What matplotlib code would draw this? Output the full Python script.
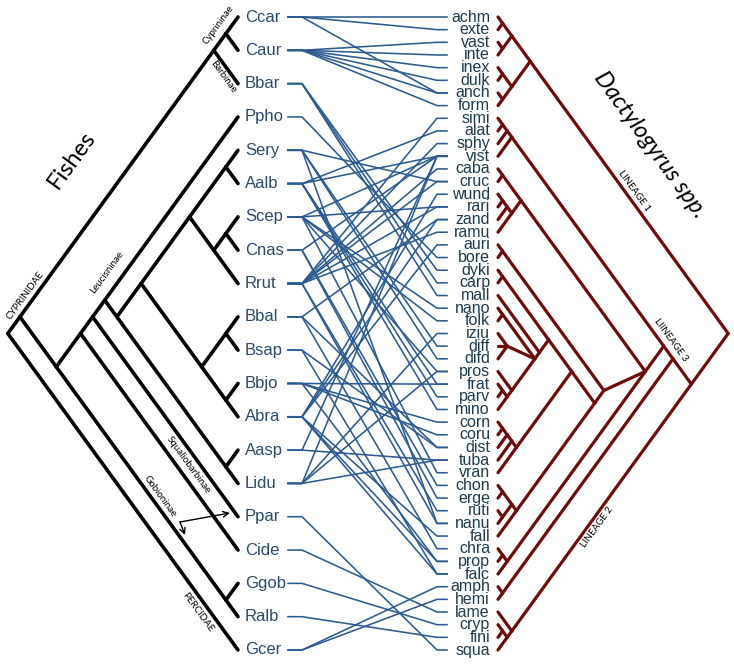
import re
import matplotlib
matplotlib.use('Agg')
import matplotlib.pyplot as plt
from matplotlib.collections import LineCollection

# host fishes (top to bottom) and their Dactylogyrus parasites
fishes = ['Ccar', 'Caur', 'Bbar', 'Ppho', 'Sery', 'Aalb', 'Scep', 'Cnas', 'Rrut', 'Bbal',
          'Bsap', 'Bbjo', 'Abra', 'Aasp', 'Lidu', 'Ppar', 'Cide', 'Ggob', 'Ralb', 'Gcer']
parasites = ['achm', 'exte', 'vast', 'inte', 'inex', 'dulk', 'anch', 'form', 'simi', 'alat',
             'sphy', 'vist', 'caba', 'cruc', 'wund', 'rari', 'zand', 'ramu', 'auri', 'bore',
             'dyki', 'carp', 'mall', 'nano', 'folk', 'iziu', 'diff', 'difd', 'pros', 'frat',
             'parv', 'mino', 'corn', 'coru', 'dist', 'tuba', 'vran', 'chon', 'erge', 'ruti',
             'nanu', 'fall', 'chra', 'prop', 'falc', 'amph', 'hemi', 'lame', 'cryp', 'fini', 'squa']

fish_tree = ("((((Ccar,Caur),Bbar),((((Ppho,((((Sery,Aalb),((Scep,Cnas),Rrut)),"
             "((Bbal,Bsap),(Bbjo,Abra))),(Aasp,Lidu))),Ppar),Cide),(Ggob,Ralb))),Gcer)")
para_tree = ("((((achm,exte),(vast,inte)),((inex,dulk),(anch,form))),"
             "((((((simi,alat),sphy),vist),"
             "(((caba,cruc),(((wund,rari),zand),ramu)),"
             "((auri,bore),((((dyki,carp),(mall,((nano,folk),(iziu,diff,difd),(pros,((frat,parv),mino))))),"
             "((((corn,coru),dist),tuba),vran)),(((chon,erge),(ruti,nanu)),fall))),"
             "((chra,prop),falc))),(amph,hemi)),(lame,((cryp,fini),squa))))")

links = [
    ('Ccar', 'achm'), ('Ccar', 'exte'), ('Ccar', 'anch'),
    ('Caur', 'vast'), ('Caur', 'inte'), ('Caur', 'inex'), ('Caur', 'dulk'), ('Caur', 'anch'), ('Caur', 'form'),
    ('Bbar', 'dyki'), ('Bbar', 'carp'), ('Bbar', 'mall'),
    ('Ppho', 'bore'),
    ('Sery', 'cruc'), ('Sery', 'diff'), ('Sery', 'difd'), ('Sery', 'nanu'),
    ('Aalb', 'alat'), ('Aalb', 'vist'), ('Aalb', 'frat'), ('Aalb', 'parv'), ('Aalb', 'mino'),
    ('Scep', 'vist'), ('Scep', 'nano'), ('Scep', 'folk'), ('Scep', 'pros'), ('Scep', 'vran'), ('Scep', 'rari'),
    ('Cnas', 'vist'), ('Cnas', 'chon'), ('Cnas', 'erge'),
    ('Rrut', 'simi'), ('Rrut', 'sphy'), ('Rrut', 'caba'), ('Rrut', 'cruc'), ('Rrut', 'rari'),
    ('Rrut', 'ramu'), ('Rrut', 'ruti'), ('Rrut', 'nanu'),
    ('Bbal', 'zand'), ('Bbal', 'dist'), ('Bbal', 'chra'),
    ('Bsap', 'dist'), ('Bsap', 'falc'),
    ('Bbjo', 'frat'), ('Bbjo', 'corn'), ('Bbjo', 'coru'), ('Bbjo', 'prop'),
    ('Abra', 'wund'), ('Abra', 'zand'), ('Abra', 'auri'), ('Abra', 'fall'), ('Abra', 'falc'), ('Abra', 'prop'),
    ('Aasp', 'tuba'), ('Aasp', 'vist'),
    ('Lidu', 'iziu'), ('Lidu', 'tuba'), ('Lidu', 'vist'), ('Lidu', 'pros'),
    ('Ppar', 'squa'), ('Cide', 'lame'), ('Ggob', 'cryp'), ('Ralb', 'fini'),
    ('Gcer', 'amph'), ('Gcer', 'hemi'),
]


def parse_newick(s):
    toks = re.findall(r'\(|\)|,|[^(),]+', s)
    pos = 0

    def node():
        nonlocal pos
        if toks[pos] == '(':
            pos += 1
            kids = [node()]
            while toks[pos] == ',':
                pos += 1
                kids.append(node())
            pos += 1  # ')'
            return kids
        name = toks[pos].strip()
        pos += 1
        return name
    return node()


def slanted(tree, ypos, tip_x, side, slope, segs):
    # slanted cladogram: node sits where the diagonals from its outer tips meet
    if isinstance(tree, str):
        y = ypos[tree]
        return (tip_x, y), y, y
    kids = [slanted(c, ypos, tip_x, side, slope, segs) for c in tree]
    lo = min(k[1] for k in kids)
    hi = max(k[2] for k in kids)
    xy = (tip_x - side * (hi - lo) / 2 / slope, (lo + hi) / 2)
    for k in kids:
        segs.append([xy, k[0]])
    return xy, lo, hi


W, H = 734, 664
fig = plt.figure(figsize=(W / 100, H / 100), dpi=100)
ax = fig.add_axes([0, 0, 1, 1])
ax.set_xlim(0, W)
ax.set_ylim(H, 0)
ax.axis('off')

fish_y = {f: 17 + i * (633 / (len(fishes) - 1)) for i, f in enumerate(fishes)}
para_y = {p: 17 + i * (633 / (len(parasites) - 1)) for i, p in enumerate(parasites)}
slope = 1.375

segs = []
slanted(parse_newick(fish_tree), fish_y, 238, 1, slope, segs)
ax.add_collection(LineCollection(segs, colors='black', linewidths=2.6, capstyle='round'))

segs = []
slanted(parse_newick(para_tree), para_y, 498, -1, slope, segs)
ax.add_collection(LineCollection(segs, colors='#6e0b0b', linewidths=2.3, capstyle='round'))

link_col = '#2c5b8f'
for f, p in links:
    ax.plot([288, 302, 437, 447], [fish_y[f], fish_y[f], para_y[p], para_y[p]],
            color=link_col, lw=1.15, solid_joinstyle='round')

for f in fishes:
    ax.text(245, fish_y[f], f, fontsize=12, color='#2b4a6c', va='center', ha='left',
            family='Liberation Sans')
for p in parasites:
    ax.text(490, para_y[p], p, fontsize=11.5, color='#1f3b4d', va='center', ha='right',
            family='Liberation Sans')

# titles and clade names
ang = 54
ax.text(72, 160, 'Fishes', rotation=ang, fontsize=17, ha='center', va='center', family='Lato')
ax.text(650, 145, 'Dactylogyrus spp.', rotation=-ang, fontsize=17, style='italic',
        ha='center', va='center', family='Lato')
small = dict(fontsize=7, ha='center', va='center', family='Lato')
ax.text(218, 25, 'Cyprininae', rotation=ang, **small)
ax.text(223, 77, 'Barbinae', rotation=-ang, **small)
ax.text(25, 296, 'CYPRINIDAE', rotation=ang, **small)
ax.text(107, 272, 'Leucisninae', rotation=ang, **small)
ax.text(188, 465, 'Squaliobarbinae', rotation=-ang, **small)
ax.text(160, 496, 'Gobioninae', rotation=-ang, **small)
ax.text(198, 612, 'PERCIDAE', rotation=-ang, **small)
ax.text(634, 191, 'LINEAGE 1', rotation=-ang, **small)
ax.text(671, 340, 'LIINEAGE 3', rotation=-ang, **small)
ax.text(597, 527, 'LINEAGE 2', rotation=ang, **small)
arr = dict(arrowstyle='->', lw=1.0, color='black', shrinkA=0, shrinkB=0)
ax.annotate('', xy=(230, 513), xytext=(180, 522), arrowprops=arr)
ax.annotate('', xy=(185, 535), xytext=(180, 522), arrowprops=arr)

fig.savefig('out.png', dpi=100)
